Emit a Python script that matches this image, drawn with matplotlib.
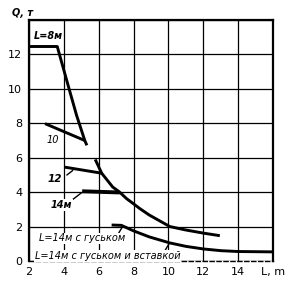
import numpy as np
import matplotlib.pyplot as plt

# crane load chart: Q (t) vs boom reach L (m)
L_main_top = [2.0, 3.62, 4.3, 4.73, 5.2, 5.32]
Q_main_top = [12.46, 12.46, 10.0, 8.46, 7.0, 6.72]
L_main_low = [5.8, 6.17, 6.8, 7.2, 7.6, 8.0, 8.35, 8.9, 10.08, 11.0, 12.0, 12.95]
Q_main_low = [5.9, 5.1, 4.3, 4.0, 3.62, 3.32, 3.05, 2.67, 2.0, 1.8, 1.62, 1.47]

L_10 = [2.92, 5.2]
Q_10 = [7.98, 7.0]
L_12 = [4.06, 6.17]
Q_12 = [5.45, 5.1]
L_14 = [5.05, 7.2]
Q_14 = [4.05, 3.98]

L_gus = [6.74, 7.3, 8.0, 8.9, 10.08, 11.0, 12.0, 13.0, 14.0, 16.0]
Q_gus = [2.09, 2.07, 1.75, 1.4, 1.05, 0.85, 0.7, 0.6, 0.55, 0.53]

x_ticks = [2, 4, 6, 8, 10, 12, 14, 16]
x_labels = ['2', '4', '6', '8', '10', '12', '14', 'L, m']
y_ticks = [0, 2, 4, 6, 8, 10, 12, 14]
y_labels = ['0', '2', '4', '6', '8', '10', '12', '']

fig = plt.figure(figsize=(3.0, 2.82), dpi=100)
ax = fig.add_axes([0.0967, 0.0745, 0.8133, 0.8546])
ax.set_xlim(2, 16)
ax.set_ylim(0, 14)
ax.set_xticks(x_ticks)
ax.set_xticklabels(x_labels)
ax.set_yticks(y_ticks)
ax.set_yticklabels(y_labels)
ax.tick_params(length=0, labelsize=8, pad=4)
ax.tick_params(axis='y', pad=5)
ax.grid(True, color='black', linewidth=0.9)
ax.set_axisbelow(True)
for s in ['left', 'top', 'right']:
    ax.spines[s].set_linewidth(1.6)
ax.spines['bottom'].set_linewidth(1.0)
ax.spines['bottom'].set_linestyle((0, (3, 2)))

lw = 2.1
ax.plot(L_main_top, Q_main_top, color='black', lw=lw, solid_capstyle='butt')
ax.plot(L_main_low, Q_main_low, color='black', lw=lw, solid_capstyle='butt')
ax.plot(L_10, Q_10, color='black', lw=lw, solid_capstyle='butt')
ax.plot(L_12, Q_12, color='black', lw=lw, solid_capstyle='butt')
ax.plot(L_14, Q_14, color='black', lw=2.8, solid_capstyle='butt')
ax.plot(L_gus, Q_gus, color='black', lw=lw, solid_capstyle='butt')

# leaders
ax.plot([4.18, 4.5], [5.0, 5.25], color='black', lw=1)
ax.plot([4.35, 5.02], [3.45, 3.97], color='black', lw=1)
ax.plot([7.02, 7.31], [1.41, 1.9], color='black', lw=1)
ax.plot([9.8, 10.05], [0.6, 1.03], color='black', lw=1)

box = dict(facecolor='white', edgecolor='none', pad=0.5)
ax.text(3.1, 13.05, 'L=8м', fontsize=7, style='italic', weight='bold',
        ha='center', va='center', bbox=box)
ax.text(3.35, 7.0, '10', fontsize=7, style='italic', ha='center', va='center', bbox=box)
ax.text(3.5, 4.77, '12', fontsize=7.5, style='italic', weight='bold',
        ha='center', va='center', bbox=box)
ax.text(3.86, 3.26, '14м', fontsize=7, style='italic', weight='bold',
        ha='center', va='center', bbox=box)
ax.text(2.57, 1.32, 'L=14м с гуськом', fontsize=7, style='italic',
        ha='left', va='center', bbox=box)
ax.text(2.34, 0.29, 'L=14м с гуськом и вставкой', fontsize=7, style='italic',
        ha='left', va='center', bbox=box)
ax.text(1.6, 14.4, 'Q, т', fontsize=7, style='italic', weight='bold',
        ha='center', va='center', clip_on=False)

fig.savefig('out.png', dpi=100)
